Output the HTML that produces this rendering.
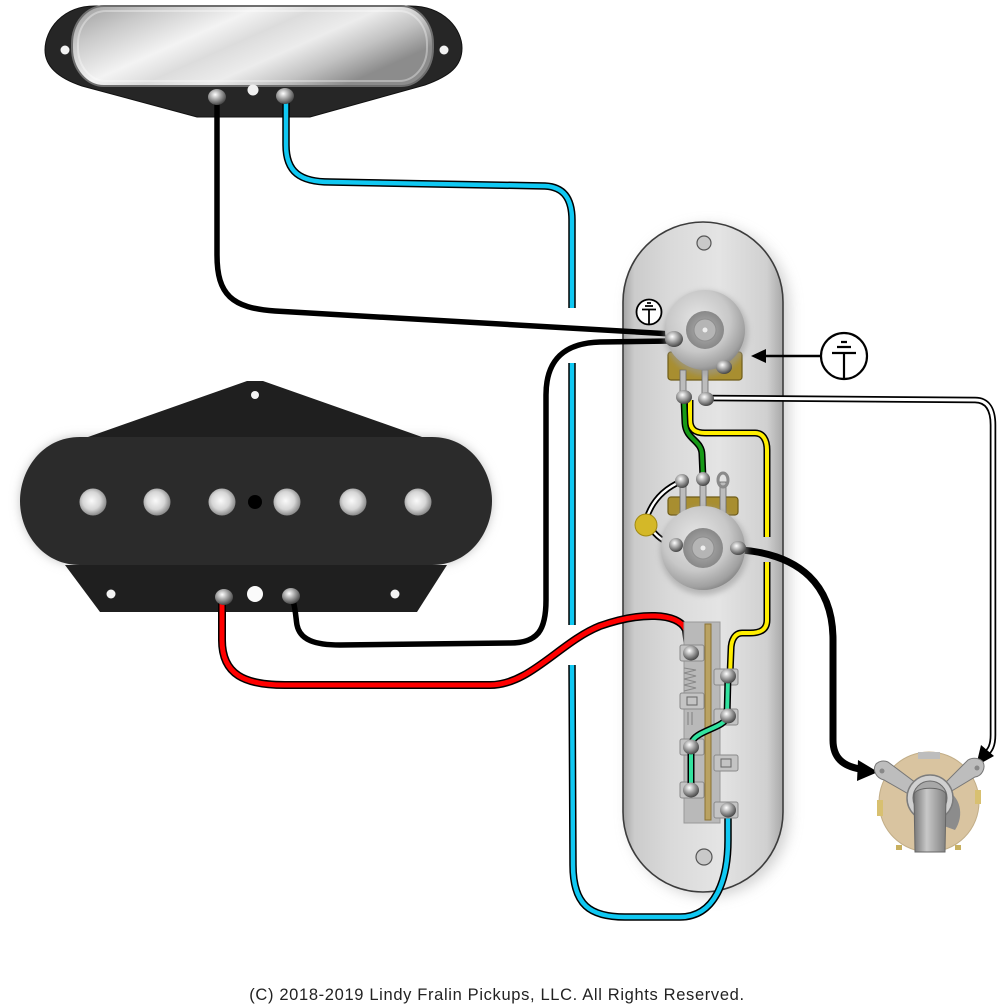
<!DOCTYPE html>
<html><head><meta charset="utf-8">
<style>html,body{margin:0;padding:0;background:#fff;width:1006px;height:1004px;overflow:hidden}svg{display:block}</style>
</head><body>
<svg width="1006" height="1004" viewBox="0 0 1006 1004" xmlns="http://www.w3.org/2000/svg">
<defs>
  <linearGradient id="chrome" x1="0" y1="0" x2="1" y2="0.5">
    <stop offset="0" stop-color="#9c9c9c"/>
    <stop offset="0.2" stop-color="#c9c9c9"/>
    <stop offset="0.42" stop-color="#f3f3f3"/>
    <stop offset="0.55" stop-color="#dcdcdc"/>
    <stop offset="0.7" stop-color="#ececec"/>
    <stop offset="0.85" stop-color="#c2c2c2"/>
    <stop offset="1" stop-color="#8c8c8c"/>
  </linearGradient>
  <linearGradient id="plateg" x1="0" y1="0" x2="1" y2="0">
    <stop offset="0" stop-color="#a4a4a4"/>
    <stop offset="0.07" stop-color="#cbcbcb"/>
    <stop offset="0.3" stop-color="#dadada"/>
    <stop offset="0.6" stop-color="#e4e4e4"/>
    <stop offset="0.9" stop-color="#d0d0d0"/>
    <stop offset="1" stop-color="#a8a8a8"/>
  </linearGradient>
  <radialGradient id="knob" cx="0.42" cy="0.38" r="0.65">
    <stop offset="0" stop-color="#e6e6e6"/>
    <stop offset="0.6" stop-color="#c8c8c8"/>
    <stop offset="0.9" stop-color="#a0a0a0"/>
    <stop offset="1" stop-color="#858585"/>
  </radialGradient>
  <radialGradient id="shaft" cx="0.5" cy="0.5" r="0.5">
    <stop offset="0" stop-color="#c4c4c4"/>
    <stop offset="0.5" stop-color="#9e9e9e"/>
    <stop offset="1" stop-color="#888"/>
  </radialGradient>
  <radialGradient id="blob" cx="0.4" cy="0.35" r="0.7">
    <stop offset="0" stop-color="#ffffff"/>
    <stop offset="0.45" stop-color="#a5a5a5"/>
    <stop offset="1" stop-color="#3a3a3a"/>
  </radialGradient>
  <radialGradient id="pole" cx="0.45" cy="0.45" r="0.55">
    <stop offset="0" stop-color="#fafafa"/>
    <stop offset="0.6" stop-color="#d6d6d6"/>
    <stop offset="1" stop-color="#8a8a8a"/>
  </radialGradient>
  <linearGradient id="tongue" x1="0" y1="0" x2="1" y2="0">
    <stop offset="0" stop-color="#777"/>
    <stop offset="0.4" stop-color="#c8c8c8"/>
    <stop offset="1" stop-color="#808080"/>
  </linearGradient>
  <filter id="blur6" x="-20%" y="-30%" width="140%" height="160%"><feGaussianBlur stdDeviation="5"/></filter>
  <filter id="blur3" x="-20%" y="-20%" width="140%" height="140%"><feGaussianBlur stdDeviation="3"/></filter>
  <filter id="blur8" x="-30%" y="-10%" width="160%" height="120%"><feGaussianBlur stdDeviation="7"/></filter>
</defs>

<!-- ============ NECK PICKUP ============ -->
<path d="M95 6 L410 6 C445 6 462 30 462 48 C462 66 450 76 425 85 L310 117 L197 117 L82 86 C58 78 45 66 45 50 C45 30 62 6 95 6 Z" fill="#262626" stroke="#111" stroke-width="1"/>
<rect x="72" y="6" width="361" height="80" rx="32" ry="38" fill="url(#chrome)" stroke="#6e6e6e" stroke-width="2"/>
<rect x="78" y="11" width="349" height="70" rx="28" ry="33" fill="none" stroke="#ffffff" stroke-opacity="0.35" stroke-width="2"/>
<circle cx="65" cy="50" r="4.5" fill="#f2f2f2"/>
<circle cx="444" cy="50" r="4.5" fill="#f2f2f2"/>
<circle cx="253" cy="90" r="5.5" fill="#f0f0f0"/>

<!-- ============ BRIDGE PICKUP ============ -->
<path d="M80 437 L432 437 C470 437 492 470 492 501 C492 532 470 565 432 565 L80 565 C42 565 20 532 20 501 C20 470 42 437 80 437 Z" fill="#c4c4c4" filter="url(#blur6)"/>
<polygon points="88,437 247,381 263,381 422,437" fill="#1f1f1f"/>
<polygon points="65,565 447,565 417,612 100,612" fill="#1f1f1f"/>
<path d="M80 437 L432 437 C470 437 492 470 492 501 C492 532 470 565 432 565 L80 565 C42 565 20 532 20 501 C20 470 42 437 80 437 Z" fill="#2b2b2b"/>
<circle cx="255" cy="395" r="4" fill="#f4f4f4"/>
<circle cx="111" cy="594" r="4.5" fill="#f4f4f4"/>
<circle cx="395" cy="594" r="4.5" fill="#f4f4f4"/>
<circle cx="255" cy="594" r="8" fill="#fafafa"/>
<g>
  <circle cx="93" cy="502" r="13.5" fill="url(#pole)"/>
  <circle cx="157" cy="502" r="13.5" fill="url(#pole)"/>
  <circle cx="222" cy="502" r="13.5" fill="url(#pole)"/>
  <circle cx="287" cy="502" r="13.5" fill="url(#pole)"/>
  <circle cx="353" cy="502" r="13.5" fill="url(#pole)"/>
  <circle cx="418" cy="502" r="13.5" fill="url(#pole)"/>
  <circle cx="255" cy="502" r="7" fill="#000"/>
</g>

<!-- ============ CONTROL PLATE ============ -->
<rect x="629" y="226" width="160" height="670" rx="80" ry="80" fill="#bcbcbc" filter="url(#blur8)" opacity="0.7"/>
<rect x="623" y="222" width="160" height="670" rx="80" ry="80" fill="url(#plateg)" stroke="#3c3c3c" stroke-width="1.6"/>
<circle cx="704" cy="243" r="7" fill="#c9c9c9" stroke="#555" stroke-width="1.2"/>
<circle cx="704" cy="857" r="8" fill="#c9c9c9" stroke="#555" stroke-width="1.2"/>

<!-- ============ WIRES ============ -->
<path d="M217 100 L217 255 C217 295 232 308 275 311 L672 334" fill="none" stroke="#000" stroke-width="5.5"/>
<path d="M293 600 C296 612 296 620 297 625 C300 640 315 645 340 645 L510 643 C538 643 546 630 546 600 L546 395 C546 358 566 343 600 342 L672 341" fill="none" stroke="#000" stroke-width="5.5"/>

<g fill="none">
  <path d="M286 100 L286 145 C286 172 300 182 330 182 L545 186 C565 187 572 200 572 220 L572 308" stroke="#000" stroke-width="7.5"/>
  <path d="M286 100 L286 145 C286 172 300 182 330 182 L545 186 C565 187 572 200 572 220 L572 308" stroke="#10c8f2" stroke-width="4.5"/>
  <path d="M572 363 L572 625" stroke="#000" stroke-width="7.5"/>
  <path d="M572 363 L572 625" stroke="#10c8f2" stroke-width="4.5"/>
  <path d="M572 665 L573 865 C573 905 590 917 625 917 L680 917 C715 917 728 880 728 840 L728 812" stroke="#000" stroke-width="7.5"/>
  <path d="M572 665 L573 865 C573 905 590 917 625 917 L680 917 C715 917 728 880 728 840 L728 812" stroke="#10c8f2" stroke-width="4.5"/>
</g>

<g fill="none">
  <path d="M222 600 L222 640 C222 675 245 685 285 685 L490 685 C530 685 560 642 600 626 C640 612 678 612 686 630 L689 655" stroke="#000" stroke-width="8"/>
  <path d="M222 600 L222 640 C222 675 245 685 285 685 L490 685 C530 685 560 642 600 626 C640 612 678 612 686 630 L689 655" stroke="#ff0000" stroke-width="5"/>
</g>

<g fill="none">
  <path d="M690 400 L690 420 C690 430 696 433 705 433 L755 433 C763 433 767 440 767 450 L767 537" stroke="#000" stroke-width="7"/>
  <path d="M690 400 L690 420 C690 430 696 433 705 433 L755 433 C763 433 767 440 767 450 L767 537" stroke="#ffee00" stroke-width="4"/>
  <path d="M767 562 L767 620 C767 630 760 633 750 633 L742 633 C735 633 731 640 731 650 L730 675" stroke="#000" stroke-width="7"/>
  <path d="M767 562 L767 620 C767 630 760 633 750 633 L742 633 C735 633 731 640 731 650 L730 675" stroke="#ffee00" stroke-width="4"/>
</g>
<g fill="none">
  <path d="M684 400 L685 423 C686 440 702 440 702 455 L703 478" stroke="#000" stroke-width="7"/>
  <path d="M684 400 L685 423 C686 440 702 440 702 455 L703 478" stroke="#179a17" stroke-width="4"/>
</g>

<g fill="none">
  <path d="M706 398 L975 400 C988 400 993 410 993 425 L993 735 C993 746 990 750 986 754" stroke="#000" stroke-width="6.5"/>
  <path d="M706 398 L975 400 C988 400 993 410 993 425 L993 735 C993 746 990 750 986 754" stroke="#fff" stroke-width="3"/>
</g>
<polygon points="976,766 981,745 994,756" fill="#000"/>

<path d="M742 550 C800 555 833 585 833 640 L833 740 C833 758 843 766 860 769" fill="none" stroke="#000" stroke-width="7"/>
<polygon points="878,772 858,760 857,781" fill="#000"/>

<!-- ============ VOLUME POT ============ -->
<rect x="668" y="352" width="74" height="28" rx="3" fill="#a88e30" stroke="#6f5c18" stroke-width="1.2"/>
<rect x="680" y="370" width="6" height="28" fill="#bcbcbc" stroke="#666" stroke-width="0.8"/>
<rect x="702" y="370" width="6" height="28" fill="#bcbcbc" stroke="#666" stroke-width="0.8"/>
<circle cx="706" cy="333" r="42" fill="#9a9a9a" filter="url(#blur3)" opacity="0.6"/>
<circle cx="705" cy="330" r="40" fill="url(#knob)"/>
<circle cx="705" cy="330" r="19" fill="url(#shaft)"/>
<circle cx="705" cy="330" r="11" fill="#b5b5b5" stroke="#8f8f8f" stroke-width="1"/>
<circle cx="705" cy="330" r="2.5" fill="#eee"/>
<ellipse cx="674" cy="339" rx="9" ry="8" fill="url(#blob)"/>
<ellipse cx="724" cy="367" rx="8" ry="7" fill="url(#blob)"/>
<ellipse cx="684" cy="397" rx="8" ry="7" fill="url(#blob)"/>
<ellipse cx="706" cy="399" rx="8" ry="7" fill="url(#blob)"/>

<!-- ============ TONE POT ============ -->
<rect x="668" y="497" width="70" height="18" rx="3" fill="#a88e30" stroke="#6f5c18" stroke-width="1.2"/>
<rect x="680" y="482" width="6" height="32" fill="#bcbcbc" stroke="#666" stroke-width="0.8"/>
<rect x="700" y="482" width="6" height="32" fill="#bcbcbc" stroke="#666" stroke-width="0.8"/>
<rect x="720" y="482" width="6" height="32" fill="#bcbcbc" stroke="#666" stroke-width="0.8"/>
<g fill="none">
  <path d="M646 520 C652 500 665 488 682 481" stroke="#000" stroke-width="6"/>
  <path d="M646 520 C652 500 665 488 682 481" stroke="#fff" stroke-width="2.5"/>
  <path d="M652 530 C660 540 667 543 676 545" stroke="#000" stroke-width="6"/>
  <path d="M652 530 C660 540 667 543 676 545" stroke="#fff" stroke-width="2.5"/>
</g>
<circle cx="704" cy="551" r="44" fill="#9a9a9a" filter="url(#blur3)" opacity="0.6"/>
<circle cx="703" cy="548" r="42" fill="url(#knob)"/>
<circle cx="703" cy="548" r="20" fill="url(#shaft)"/>
<circle cx="703" cy="548" r="11" fill="#b5b5b5" stroke="#8f8f8f" stroke-width="1"/>
<circle cx="703" cy="548" r="2.5" fill="#eee"/>
<circle cx="646" cy="525" r="11" fill="#d4b828" stroke="#a08810" stroke-width="1"/>
<ellipse cx="682" cy="481" rx="7" ry="7" fill="url(#blob)"/>
<ellipse cx="703" cy="479" rx="7" ry="7" fill="url(#blob)"/>
<ellipse cx="723" cy="480" rx="5" ry="7" fill="none" stroke="#8a8a8a" stroke-width="3"/>
<ellipse cx="676" cy="545" rx="7" ry="7" fill="url(#blob)"/>
<ellipse cx="738" cy="548" rx="8" ry="7" fill="url(#blob)"/>

<!-- ============ SWITCH ============ -->
<rect x="684" y="622" width="36" height="201" fill="#b9b9b9" stroke="#999" stroke-width="1"/>
<g fill="#c4c4c4" stroke="#8a8a8a" stroke-width="1">
  <rect x="680" y="645" width="24" height="16" rx="2"/>
  <rect x="680" y="693" width="24" height="16" rx="2"/>
  <rect x="680" y="739" width="24" height="16" rx="2"/>
  <rect x="680" y="782" width="24" height="16" rx="2"/>
  <rect x="714" y="669" width="24" height="16" rx="2"/>
  <rect x="714" y="709" width="24" height="16" rx="2"/>
  <rect x="714" y="755" width="24" height="16" rx="2"/>
  <rect x="714" y="802" width="24" height="16" rx="2"/>
</g>
<rect x="687" y="697" width="10" height="8" fill="none" stroke="#666" stroke-width="1"/>
<rect x="721" y="759" width="10" height="8" fill="none" stroke="#666" stroke-width="1"/>
<path d="M684 668 L696 670 L684 673 L696 676 L684 679 L696 682 L684 685 L696 688 L684 691" fill="none" stroke="#888" stroke-width="1"/>
<path d="M688 712 L688 725 M692 712 L692 725" stroke="#888" stroke-width="1.2"/>
<rect x="705" y="624" width="6" height="196" fill="#b9a262" stroke="#8a7234" stroke-width="1"/>
<g fill="none">
  <path d="M728 677 L727 717 C725 727 700 730 693 740 L691 747 L691 790" stroke="#000" stroke-width="7"/>
  <path d="M728 677 L727 717 C725 727 700 730 693 740 L691 747 L691 790" stroke="#32e29f" stroke-width="4"/>
</g>
<g>
  <ellipse cx="691" cy="653" rx="8" ry="7.5" fill="url(#blob)"/>
  <ellipse cx="691" cy="747" rx="8" ry="7.5" fill="url(#blob)"/>
  <ellipse cx="691" cy="790" rx="8" ry="7.5" fill="url(#blob)"/>
  <ellipse cx="728" cy="676" rx="8" ry="7.5" fill="url(#blob)"/>
  <ellipse cx="728" cy="716" rx="8" ry="7.5" fill="url(#blob)"/>
  <ellipse cx="728" cy="810" rx="8" ry="7.5" fill="url(#blob)"/>
</g>

<!-- ============ PICKUP TERMINALS ============ -->
<ellipse cx="217" cy="97" rx="9" ry="8" fill="url(#blob)"/>
<ellipse cx="285" cy="96" rx="9" ry="8" fill="url(#blob)"/>
<ellipse cx="224" cy="597" rx="9" ry="8" fill="url(#blob)"/>
<ellipse cx="291" cy="596" rx="9" ry="8" fill="url(#blob)"/>

<!-- ============ JACK ============ -->
<circle cx="929" cy="802" r="50" fill="#d9c4a0" stroke="#c2ae88" stroke-width="1"/>
<rect x="918" y="752" width="22" height="7" fill="#bdbdbd"/>
<rect x="877" y="800" width="6" height="16" fill="#d8c070"/>
<rect x="975" y="790" width="6" height="14" fill="#d8c070"/>
<rect x="896" y="845" width="6" height="5" fill="#c8b060"/>
<rect x="955" y="845" width="6" height="5" fill="#c8b060"/>
<path d="M876 764 C872 770 876 778 884 780 L912 796 L920 786 L888 762 C884 760 879 761 876 764 Z" fill="#bdbdbd" stroke="#777" stroke-width="1"/>
<circle cx="882" cy="771" r="2.5" fill="#888"/>
<path d="M983 762 C986 768 982 776 975 777 L950 792 L944 784 L968 760 C973 757 980 758 983 762 Z" fill="#bdbdbd" stroke="#777" stroke-width="1"/>
<circle cx="977" cy="768" r="2.5" fill="#888"/>
<path d="M945 790 C960 795 965 815 955 830 L944 826 Z" fill="#8c8c8c"/>
<circle cx="930" cy="798" r="23" fill="#d0d0d0" stroke="#7c7c7c" stroke-width="1.5"/>
<circle cx="930" cy="798" r="17" fill="#a8a8a8" stroke="#6a6a6a" stroke-width="1"/>
<path d="M914 795 C914 786 946 786 946 795 L945 852 L915 852 Z" fill="url(#tongue)" stroke="#666" stroke-width="1"/>

<!-- ============ GROUND SYMBOLS ============ -->
<g fill="none" stroke="#000" stroke-width="1.8">
  <circle cx="649" cy="312" r="12.5" fill="#fff"/>
  <path d="M647 303 L651 303 M645 306 L653 306 M642 309.5 L656 309.5 M649 309.5 L649 324.5"/>
</g>
<path d="M820 356 L764 356" stroke="#000" stroke-width="2.5"/>
<polygon points="751,356 766,349 766,363" fill="#000"/>
<g fill="none" stroke="#000" stroke-width="2.2">
  <circle cx="844" cy="356" r="23" fill="#fff"/>
  <path d="M841 342 L847 342 M837 347 L851 347 M832 353 L856 353 M844 353 L844 379"/>
</g>

<!-- ============ COPYRIGHT ============ -->
<text x="497" y="1000" text-anchor="middle" font-family="Liberation Sans, sans-serif" font-size="16.5" letter-spacing="0.65" fill="#222">(C) 2018-2019 Lindy Fralin Pickups, LLC. All Rights Reserved.</text>
</svg>
</body></html>
